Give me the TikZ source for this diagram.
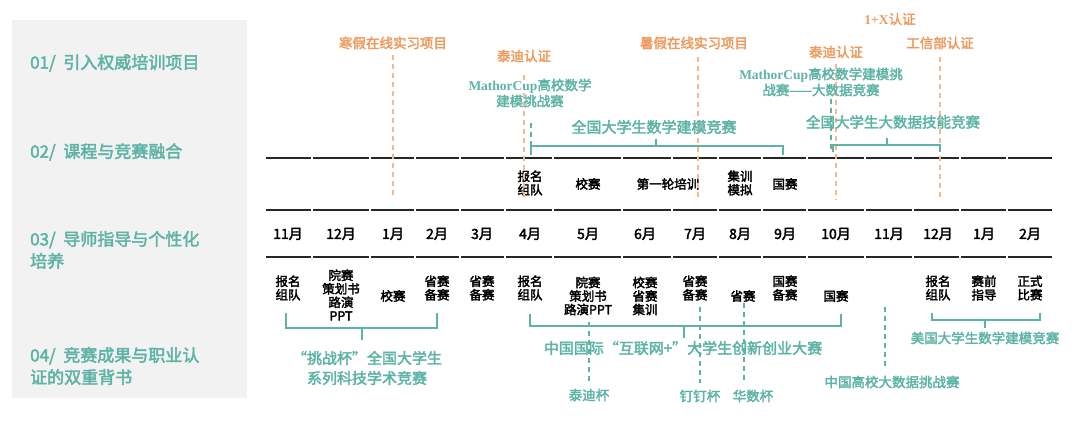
\documentclass[tikz,border=0pt]{standalone}
\usepackage{fontspec}
\setmainfont{Noto Sans CJK SC}[FakeBold=2.5]
\newfontfamily\mserif{Liberation Serif Bold}
\begin{document}
\begin{tikzpicture}[x=1pt,y=-1pt,
  teal/.style={text=tealc,font=\fontsize{14.5}{16}\selectfont,align=center,inner sep=0},
  orng/.style={text=orngc,font=\fontsize{13.5}{15}\selectfont,align=center,inner sep=0},
  cell/.style={font=\fontsize{12.5}{13.5}\selectfont,align=center,inner sep=0},
  month/.style={font=\fontsize{14}{16}\selectfont,inner sep=0},
  side/.style={text=tealc,font=\fontsize{17}{22}\selectfont,align=left,anchor=west,inner sep=0},
  od/.style={draw=orngc!70,dashed,line width=1.2pt,dash pattern=on 5pt off 4pt},
  td/.style={draw=tealc,dashed,line width=1.2pt,dash pattern=on 5pt off 4pt},
  br/.style={draw=tealc,line width=1.3pt}]
\definecolor{tealc}{HTML}{5DB3A5}
\definecolor{orngc}{HTML}{EE9A5C}
\useasboundingbox (0,0) rectangle (1080,422);
\fill[gray!10] (12,20) rectangle (247,398);
\node[side] (s1) at (30,63) {01/\ \ 引入权威培训项目};
\node[side] (s2) at (30,152) {02/\ \ 课程与竞赛融合};
\node[side] (s3) at (30,250) {03/\ \ 导师指导与个性化\\培养};
\node[side] (s4) at (30,366) {04/\ \ 竞赛成果与职业认\\证的双重背书};
% table lines
\foreach \a/\b in {265/312,312/370,370/415,415/460,460/505,505/553,553/622,622/672,672/718,718/762,762/807,807/865,865/913,913/960,960/1007,1007/1053}{
  \foreach \yy in {158,210,257}{\draw[line width=1.3pt,black!85] (\a+1,\yy) -- (\b-1,\yy);}
}
% months
\foreach \x/\m [count=\i] in {288/11,341/12,393/1,437/2,482/3,530/4,588/5,645/6,695/7,740/8,785/9,836/10,889/11,938/12,984/1,1030/2}
  \node[month] (m\i) at (\x,234) {\m 月};
% row 2
\node[cell] (r1) at (530,183) {报名\\组队};
\node[cell] (r2) at (588,184) {校赛};
\node[cell] (r3) at (668,184) {第一轮培训};
\node[cell] (r4) at (740,183) {集训\\模拟};
\node[cell] (r5) at (785,184) {国赛};
% orange
\node[orng] (o1) at (393,43) {寒假在线实习项目};
\node[orng] (o2) at (524,56) {泰迪认证};
\node[orng] (o3) at (694,43) {暑假在线实习项目};
\node[orng] (o4) at (836,52) {泰迪认证};
\node[orng] (o5) at (890,19) {{\mserif 1+X}认证};
\node[orng] (o6) at (940,43) {工信部认证};
\coordinate (e1) at (393,197);\coordinate (e2) at (524,200);\coordinate (e3) at (698,200);
\coordinate (e4) at (836,200);\coordinate (e6) at (940,198);
\draw[od] (393,55) -- (e1);
\draw[od] (524,75) -- (e2);
\draw[od] (698,57) -- (e3);
\draw[od] (836,64) -- (e4);
\draw[od] (940,57) -- (e6);
% teal top
\node[teal,font=\fontsize{13.5}{16}\selectfont] (t1) at (530,93) {{\mserif MathorCup}高校数学\\建模挑战赛};
\node[teal,font=\fontsize{13.5}{16}\selectfont] (t2) at (821,82) {{\mserif MathorCup}高校数学建模挑\\战赛——大数据竞赛};
\node[teal,font=\fontsize{15}{17}\selectfont] (t3) at (654,127) {全国大学生数学建模竞赛};
\node[teal] (t4) at (893,122) {全国大学生大数据技能竞赛};
\draw[td] (531,123) -- (531,150);
\draw[td] (831,99) -- (831,150);
\draw[br] (531,155) -- (531,146) -- (783,146) -- (783,155) (656,146) -- (656,139);
\draw[br] (833,152) -- (833,145) -- (940,145) -- (940,152) (887,145) -- (887,138);
% bottom row
\node[cell] (b1) at (288,288) {报名\\组队};
\node[cell] (b2) at (341,295) {院赛\\策划书\\路演\\PPT};
\node[cell] (b3) at (393,296) {校赛};
\node[cell] (b4) at (437,288) {省赛\\备赛};
\node[cell] (b5) at (482,288) {省赛\\备赛};
\node[cell] (b6) at (530,288) {报名\\组队};
\node[cell] (b7) at (588,296) {院赛\\策划书\\路演PPT};
\node[cell] (b8) at (645,296) {校赛\\省赛\\集训};
\node[cell] (b9) at (695,288) {省赛\\备赛};
\node[cell] (b10) at (743,296) {省赛};
\node[cell] (b11) at (785,288) {国赛\\备赛};
\node[cell] (b12) at (836,296) {国赛};
\node[cell] (b13) at (938,288) {报名\\组队};
\node[cell] (b14) at (984,288) {赛前\\指导};
\node[cell] (b15) at (1030,288) {正式\\比赛};
\draw[br] (286,313) -- (286,328) -- (437,328) -- (437,313) (362,328) -- (362,340);
\node[teal,font=\fontsize{15}{20}\selectfont] (c1) at (367,368) {“挑战杯”全国大学生\\系列科技学术竞赛};
\draw[br] (530,314) -- (530,326) -- (841,326) -- (841,314) (684,326) -- (684,338);
\node[teal,font=\fontsize{15}{17}\selectfont] (c2) at (683,348) {中国国际“互联网+”大学生创新创业大赛};
\draw[br] (932,313) -- (932,320) -- (1040,320) -- (1040,313) (985,320) -- (985,328);
\node[teal,font=\fontsize{13.5}{16}\selectfont] (c3) at (985,338) {美国大学生数学建模竞赛};
\node[teal,font=\fontsize{13.5}{16}\selectfont] (d1) at (589,395) {泰迪杯};
\node[teal,font=\fontsize{13.5}{16}\selectfont] (d2) at (700,396) {钉钉杯};
\node[teal,font=\fontsize{13.5}{16}\selectfont] (d3) at (753,396) {华数杯};
\node[teal,font=\fontsize{13.5}{16}\selectfont] (d4) at (892,382) {中国高校大数据挑战赛};
\draw[td] (589,322) -- (589,385);
\draw[td] (700,307) -- (700,383);
\draw[td] (744,303) -- (744,384);
\draw[td] (885,307) -- (885,368);
\end{tikzpicture}
\end{document}
